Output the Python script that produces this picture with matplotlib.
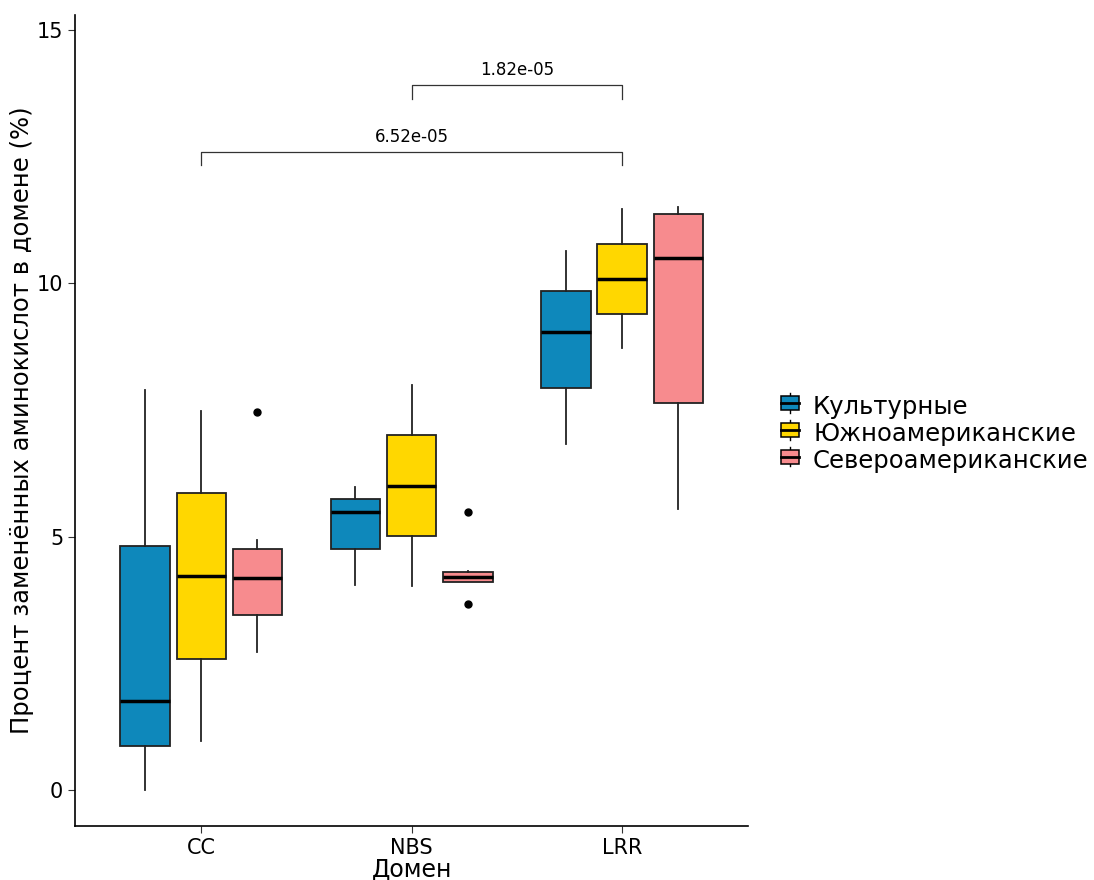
import matplotlib
matplotlib.use('Agg')
import matplotlib.pyplot as plt
from matplotlib.legend_handler import HandlerBase
from matplotlib.patches import Rectangle
from matplotlib.lines import Line2D

# ─── Data ─────────────────────────────────────────────────────────────────────
domains = ['CC', 'NBS', 'LRR']
groups = ['Культурные', 'Южноамериканские', 'Североамериканские']
colors = ['#0E88BB', '#FFD700', '#F78B8E']

# per group: one value per domain
whislo = [[0.00, 4.05, 6.83], [0.97, 4.03, 8.72], [2.72, 4.10, 5.54]]
q1     = [[0.87, 4.76, 7.93], [2.59, 5.02, 9.40], [3.45, 4.11, 7.64]]
med    = [[1.75, 5.49, 9.04], [4.22, 6.01, 10.09], [4.18, 4.21, 10.50]]
q3     = [[4.81, 5.74, 9.85], [5.86, 7.01, 10.78], [4.76, 4.30, 11.37]]
whishi = [[7.89, 5.99, 10.65], [7.49, 7.99, 11.46], [4.94, 4.32, 11.50]]
fliers = [[[], [], []], [[], [], []], [[7.47], [5.49, 3.68], []]]

# significance brackets: (from domain, to domain, y, label)
brackets = [('NBS', 'LRR', 13.91, '1.82e-05'), ('CC', 'LRR', 12.59, '6.52e-05')]


class BoxHandler(HandlerBase):
    def create_artists(self, legend, orig, xd, yd, w, h, fontsize, trans):
        fc = orig.get_facecolor()
        bw = w * 0.75
        x0 = xd + (w - bw) / 2
        rect = Rectangle((x0, yd + h * 0.15), bw, h * 0.7, facecolor=fc,
                         edgecolor='black', lw=1.1, transform=trans)
        mid = Line2D([x0, x0 + bw], [yd + h / 2] * 2, color='black', lw=2,
                     transform=trans)
        stub_top = Line2D([xd + w / 2] * 2, [yd + h * 0.85, yd + h], color='black',
                          lw=1, transform=trans)
        stub_bot = Line2D([xd + w / 2] * 2, [yd, yd + h * 0.15], color='black',
                          lw=1, transform=trans)
        return [stub_top, stub_bot, rect, mid]


fig = plt.figure(figsize=(10.94, 8.8), dpi=100)
ax = fig.add_axes([0.0686, 0.0614, 0.6154, 0.9216])

offsets = [-0.267, 0.0, 0.267]
width = 0.235
handles = []
for g in range(3):
    stats = []
    for d in range(3):
        stats.append(dict(med=med[g][d], q1=q1[g][d], q3=q3[g][d],
                          whislo=whislo[g][d], whishi=whishi[g][d],
                          fliers=fliers[g][d]))
    pos = [d + 1 + offsets[g] for d in range(3)]
    bp = ax.bxp(stats, positions=pos, widths=width, patch_artist=True,
                showcaps=False,
                boxprops=dict(facecolor=colors[g], edgecolor='#222222', lw=1.3),
                medianprops=dict(color='black', lw=2.5),
                whiskerprops=dict(color='#222222', lw=1.3),
                flierprops=dict(marker='o', markerfacecolor='black',
                                markeredgecolor='black', markersize=5))
    handles.append(bp['boxes'][0])

for a, b, y, lab in brackets:
    xa = domains.index(a) + 1
    xb = domains.index(b) + 1
    ax.plot([xa, xa, xb, xb], [y - 0.26, y, y, y - 0.26], color='#333333', lw=0.9)
    ax.text((xa + xb) / 2, y + 0.12, lab, ha='center', va='bottom', fontsize=12)

ax.set_xlim(0.4, 3.6)
ax.set_ylim(-0.71, 15.3)
ax.set_xticks([1, 2, 3])
ax.set_xticklabels(domains)
ax.set_yticks([0, 5, 10, 15])
ax.tick_params(labelsize=15, length=5, color='#333333')
for s in ['top', 'right']:
    ax.spines[s].set_visible(False)
for s in ['left', 'bottom']:
    ax.spines[s].set_linewidth(1.2)

ax.set_xlabel('Домен', fontsize=17, labelpad=0)
ax.set_ylabel('Процент заменённых аминокислот в домене (%)', fontsize=17.5, labelpad=2)

fig.legend(handles, groups, handler_map={h: BoxHandler() for h in handles},
           loc='center left', bbox_to_anchor=(0.711, 0.507), frameon=False,
           fontsize=17.5, handlelength=1.0, handleheight=0.85, handletextpad=0.45,
           labelspacing=0.12, borderaxespad=0.0, borderpad=0.0)

fig.savefig('out.png', dpi=100)
